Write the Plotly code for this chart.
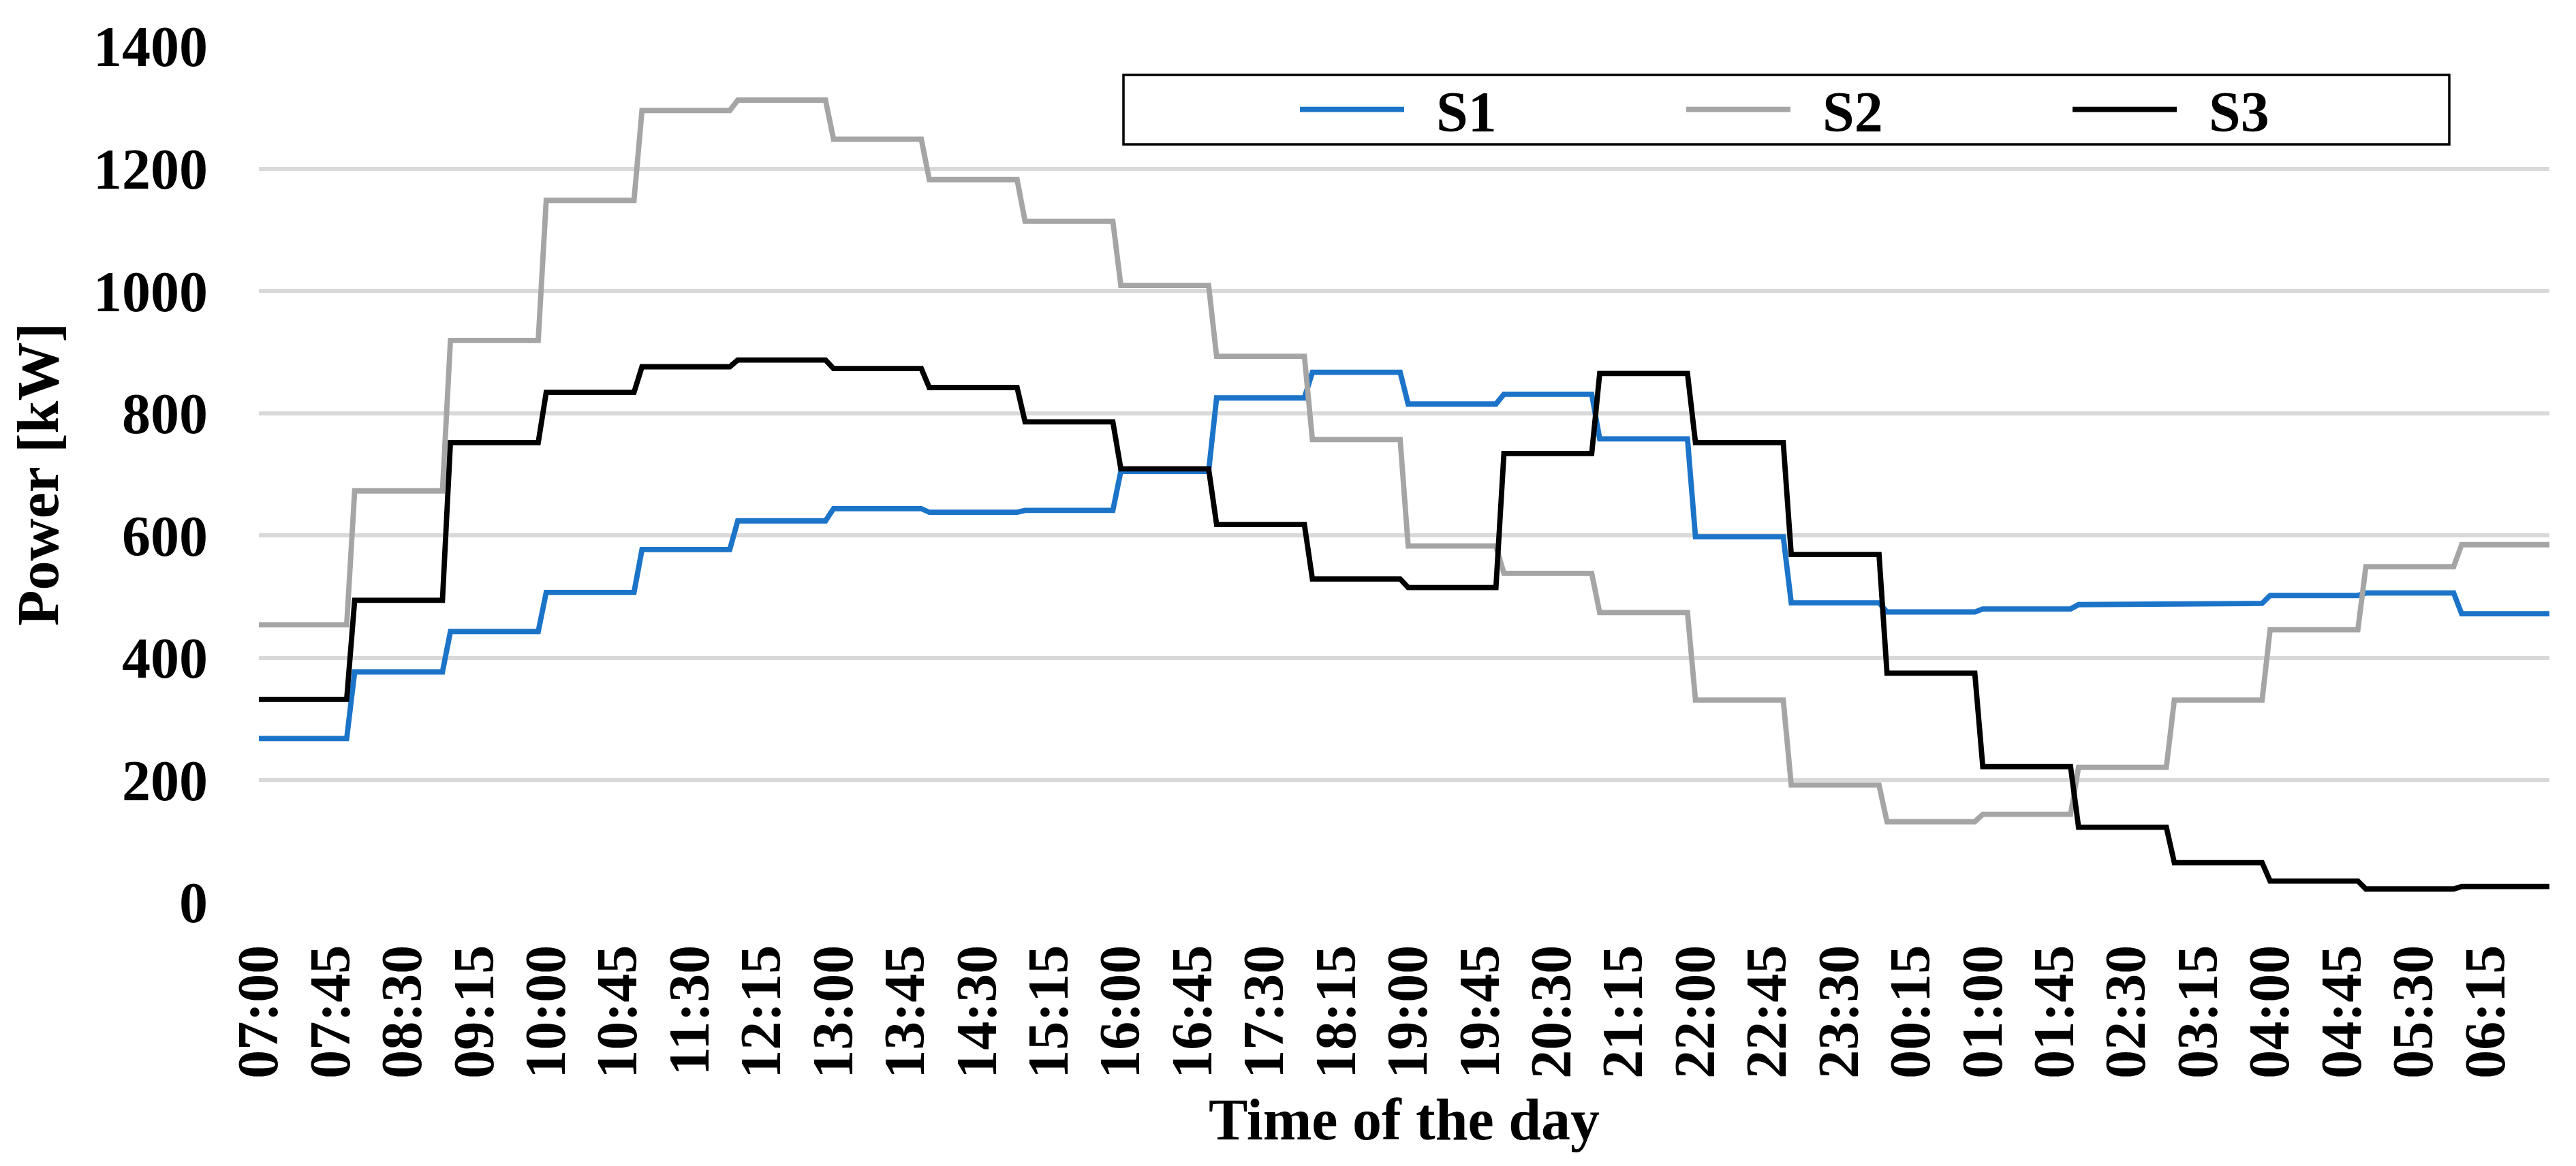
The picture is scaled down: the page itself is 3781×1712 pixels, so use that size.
import plotly.graph_objects as go
import numpy as np

# Hourly power values [kW], starting 07:00 (each hour held constant, 5-min resolution)
HOURS = ["07", "08", "09", "10", "11", "12", "13", "14", "15", "16", "17", "18",
         "19", "20", "21", "22", "23", "00", "01", "02", "03", "04", "05", "06"]
S1 = [268, 377, 443, 507, 577, 624, 644, 638, 641, 705, 825, 867,
      815, 831, 758, 598, 490, 475, 480, 487, 489, 502, 506, 472]
S2 = [454, 673, 919, 1148, 1295, 1312, 1248, 1182, 1114, 1009, 893, 757,
      583, 538, 474, 331, 192, 132, 144, 221, 331, 446, 549, 585]
S3 = [332, 494, 752, 834, 876, 887, 873, 842, 786, 709, 618, 529,
      515, 734, 865, 752, 569, 375, 222, 123, 65, 35, 22, 26]
MINUTES = ["00", "05", "10", "15", "20", "25", "30", "35", "40", "45", "50", "55"]
TICK_LABELS = ["07:00", "07:45", "08:30", "09:15", "10:00", "10:45", "11:30", "12:15",
               "13:00", "13:45", "14:30", "15:15", "16:00", "16:45", "17:30", "18:15",
               "19:00", "19:45", "20:30", "21:15", "22:00", "22:45", "23:30", "00:15",
               "01:00", "01:45", "02:30", "03:15", "04:00", "04:45", "05:30", "06:15"]

categories = [h + ":" + m for h in HOURS for m in MINUTES]
n_sub = len(MINUTES)

W, H = 3781, 1712
L, R, T, B = 372, 47, 60, 395
FONT = "Liberation Serif"
GAP = "\u00a0\u00a0"  # gap between legend line and legend text

series = [("S1", S1, "#1c74c9"), ("S2", S2, "#a5a5a5"), ("S3", S3, "#000000")]

fig = go.Figure()
for name, vals, col in series:
    fig.add_trace(go.Scatter(
        x=categories, y=np.repeat(vals, n_sub), name=GAP + name, mode="lines",
        line=dict(color=col, width=7.8),
    ))

pw = W - L - R
ph = H - T - B
def px_x(p):
    return (p - L) / pw
def px_y(p):
    return (H - B - p) / ph

fig.add_shape(type="rect", xref="paper", yref="paper",
              x0=px_x(1641), x1=px_x(3587), y0=px_y(204), y1=px_y(102),
              line=dict(color="black", width=3.5), fillcolor="rgba(0,0,0,0)")

fig.update_layout(
    width=W, height=H,
    margin=dict(l=L, r=R, t=T, b=B),
    paper_bgcolor="white", plot_bgcolor="white",
    font=dict(family=FONT, color="black", size=84, weight="bold"),
    showlegend=True,
    legend=dict(
        orientation="h", x=px_x(1895), y=px_y(153), xanchor="left", yanchor="middle",
        bgcolor="rgba(0,0,0,0)", borderwidth=0,
        font=dict(family=FONT, size=84, color="black", weight="bold"),
        itemwidth=153, entrywidth=399, entrywidthmode="pixels",
    ),
    xaxis=dict(
        type="category", range=[0, len(categories) - 1],
        tickmode="array", tickvals=categories[::9], ticktext=TICK_LABELS,
        tickangle=-90, showgrid=False, zeroline=False, showline=False, ticks="",
        ticklabelstandoff=45,
        tickfont=dict(family=FONT, size=84, color="black", weight="bold"),
        title=dict(text="Time of the day", standoff=30,
                   font=dict(family=FONT, size=86, color="black", weight="bold")),
    ),
    yaxis=dict(
        range=[0, 1400], dtick=200, tick0=0,
        showgrid=True, gridcolor="#d9d9d9", gridwidth=5.7,
        zeroline=False, showline=False, ticks="",
        ticklabelstandoff=74,
        tickfont=dict(family=FONT, size=84, color="black", weight="bold"),
        title=dict(text="Power [kW]", standoff=28,
                   font=dict(family=FONT, size=86, color="black", weight="bold")),
    ),
)

fig.write_html("out.html")
